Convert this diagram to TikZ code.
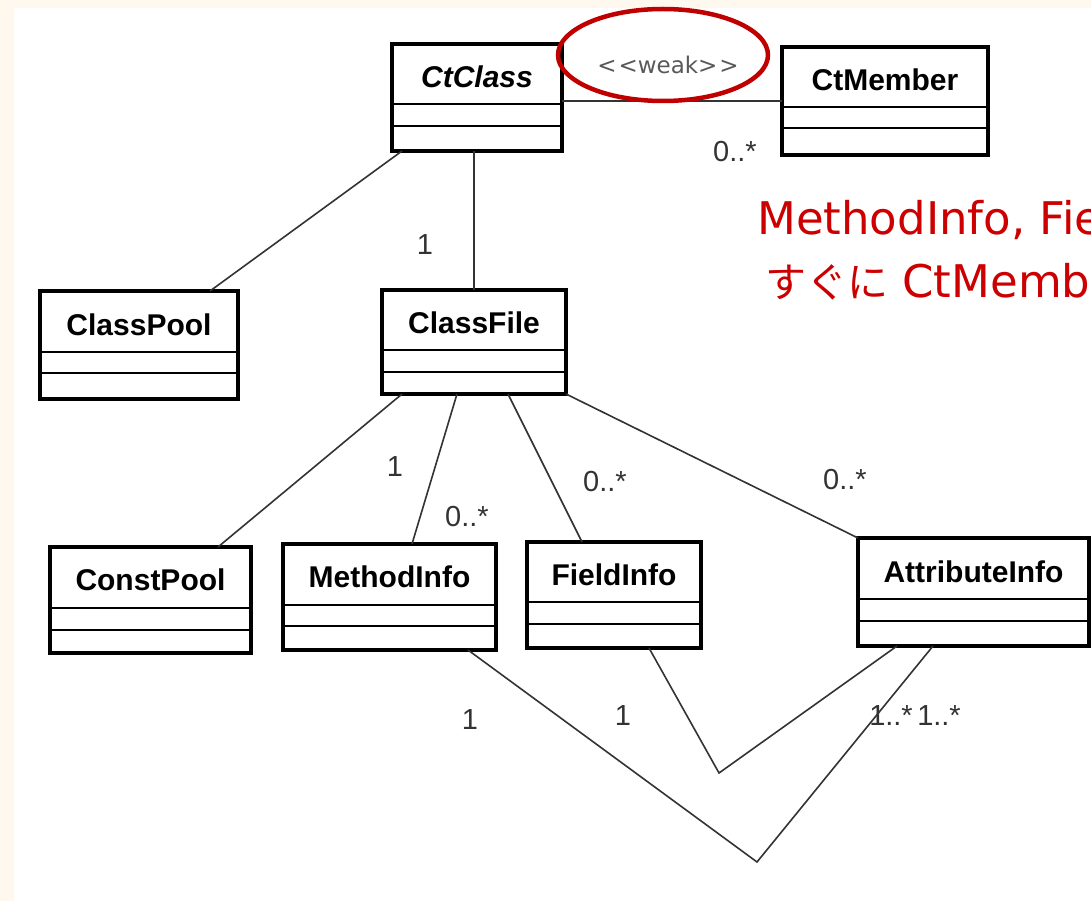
\documentclass[tikz,border=0pt]{standalone}
\usepackage{fontspec}
\setmainfont{Liberation Sans}
\newfontfamily\dejavu{DejaVu Sans}
\newfontfamily\jpfont{Noto Sans CJK JP}
\usetikzlibrary{shapes.geometric}

\definecolor{cream}{HTML}{FEF8EF}
\definecolor{notered}{HTML}{CC0000}
\definecolor{ringred}{HTML}{C00000}

\tikzset{
  umlbox/.style={draw, line width=4pt, rectangle, anchor=north west, outer sep=0pt, inner sep=0pt},
  umlname/.style={font=\fontsize{30}{36}\selectfont\bfseries, inner sep=0pt},
  compline/.style={line width=2pt},
  assoc/.style={draw=black!80, line width=1.6pt},
  mult/.style={font=\fontsize{29}{34}\selectfont, text=black!80, inner sep=0pt},
}

\begin{document}
\begin{tikzpicture}[x=1pt,y=-1pt]

        \useasboundingbox (0,0) rectangle (1091,901);
        \clip (0,0) rectangle (1091,901);
        \fill[cream] (0,0) rectangle (1091,901);
        \fill[white] (14,8) rectangle (1091,901);

        % classes
        \node[umlbox, minimum width=170, minimum height=107] (ctclass)       at (392,44)  {};
        \node[umlbox, minimum width=206, minimum height=108] (ctmember)      at (782,47)  {};
        \node[umlbox, minimum width=198, minimum height=108] (classpool)     at (40,291)  {};
        \node[umlbox, minimum width=184, minimum height=104] (classfile)     at (382,290) {};
        \node[umlbox, minimum width=201, minimum height=106] (constpool)     at (50,547)  {};
        \node[umlbox, minimum width=213, minimum height=106] (methodinfo)    at (283,544) {};
        \node[umlbox, minimum width=174, minimum height=106] (fieldinfo)     at (527,542) {};
        \node[umlbox, minimum width=231, minimum height=108] (attributeinfo) at (858,538) {};

        \node[umlname] (ctclass-name)       at ([yshift=-33pt]ctclass.north)       {\itshape CtClass};
        \node[umlname] (ctmember-name)      at ([yshift=-33pt]ctmember.north)      {CtMember};
        \node[umlname] (classpool-name)     at ([yshift=-34pt]classpool.north)     {ClassPool};
        \node[umlname] (classfile-name)     at ([yshift=-33pt]classfile.north)     {ClassFile};
        \node[umlname] (constpool-name)     at ([yshift=-33pt]constpool.north)     {ConstPool};
        \node[umlname] (methodinfo-name)    at ([yshift=-33pt]methodinfo.north)    {MethodInfo};
        \node[umlname] (fieldinfo-name)     at ([yshift=-33pt]fieldinfo.north)     {FieldInfo};
        \node[umlname] (attributeinfo-name) at ([yshift=-34pt]attributeinfo.north) {AttributeInfo};

        % compartments
        \begin{scope}[compline]
          \draw ([yshift=-60pt]ctclass.north west) -- ([yshift=-60pt]ctclass.north east)
                ([yshift=-82pt]ctclass.north west) -- ([yshift=-82pt]ctclass.north east);
          \draw ([yshift=-60pt]ctmember.north west) -- ([yshift=-60pt]ctmember.north east)
                ([yshift=-81pt]ctmember.north west) -- ([yshift=-81pt]ctmember.north east);
          \draw ([yshift=-61pt]classpool.north west) -- ([yshift=-61pt]classpool.north east)
                ([yshift=-82pt]classpool.north west) -- ([yshift=-82pt]classpool.north east);
          \draw ([yshift=-60pt]classfile.north west) -- ([yshift=-60pt]classfile.north east)
                ([yshift=-82pt]classfile.north west) -- ([yshift=-82pt]classfile.north east);
          \draw ([yshift=-61pt]constpool.north west) -- ([yshift=-61pt]constpool.north east)
                ([yshift=-83pt]constpool.north west) -- ([yshift=-83pt]constpool.north east);
          \draw ([yshift=-61pt]methodinfo.north west) -- ([yshift=-61pt]methodinfo.north east)
                ([yshift=-82pt]methodinfo.north west) -- ([yshift=-82pt]methodinfo.north east);
          \draw ([yshift=-60pt]fieldinfo.north west) -- ([yshift=-60pt]fieldinfo.north east)
                ([yshift=-82pt]fieldinfo.north west) -- ([yshift=-82pt]fieldinfo.north east);
          \draw ([yshift=-61pt]attributeinfo.north west) -- ([yshift=-61pt]attributeinfo.north east)
                ([yshift=-83pt]attributeinfo.north west) -- ([yshift=-83pt]attributeinfo.north east);
        \end{scope}

        % associations
        \coordinate (mbend) at (757,862);
        \coordinate (fbend) at (719,773);
        \begin{scope}[assoc]
          \draw (ctmember.west -| ctclass.east) -- (ctmember.west);
          \draw ([xshift=10pt]ctclass.south west) -- ([xshift=170pt]classpool.north west);
          \draw (classfile.north |- ctclass.south) -- (classfile.north);
          \draw ([xshift=20pt]classfile.south west) -- ([xshift=168pt]constpool.north west);
          \draw ([xshift=75pt]classfile.south west) -- ([xshift=129pt]methodinfo.north west);
          \draw ([xshift=126pt]classfile.south west) -- ([xshift=55pt]fieldinfo.north west);
          \draw (classfile.south east) -- (attributeinfo.north west);
          \draw ([xshift=185pt]methodinfo.south west) -- (mbend) -- ([xshift=75pt]attributeinfo.south west);
          \draw ([xshift=122pt]fieldinfo.south west) -- (fbend) -- ([xshift=39pt]attributeinfo.south west);
        \end{scope}

        % multiplicities
        \node[mult] (m-classfile) at (425,245) {1};
        \node[mult] (m-ctmember)  at (735,152) {0..*};
        \node[mult] (m-constpool) at (395,467) {1};
        \node[mult] (m-method)    at (467,517) {0..*};
        \node[mult] (m-field)     at (605,482) {0..*};
        \node[mult] (m-attr)      at (845,480) {0..*};
        \node[mult] (m-mbend)     at (470,720) {1};
        \node[mult] (m-fbend)     at (623,716) {1};
        \node[mult] (m-attr-m)    at (891,716) {1..*};
        \node[mult] (m-attr-f)    at (939,716) {1..*};

        % weak stereotype and note
        \node[ellipse, draw=ringred, line width=4.5pt, minimum width=210, minimum height=92] (ring) at (663,55) {};
        \node[font={\dejavu\fontsize{23}{27}\selectfont}, text=black!65, inner sep=0pt] (weak) at (668,65)
          {<\kern2pt<weak>\kern2pt>};
        \node[anchor=base west, inner sep=0pt, text=notered, font={\dejavu\fontsize{45}{54}\selectfont}] (note1)
          at (757,235) {MethodInfo, Fie};
        \node[anchor=base west, inner sep=0pt, text=notered, font={\dejavu\fontsize{45}{54}\selectfont}] (note2)
          at (765,297) {{\jpfont\fontsize{41}{48}\selectfont すぐに} CtMemb};

      \end{tikzpicture}
\end{document}
